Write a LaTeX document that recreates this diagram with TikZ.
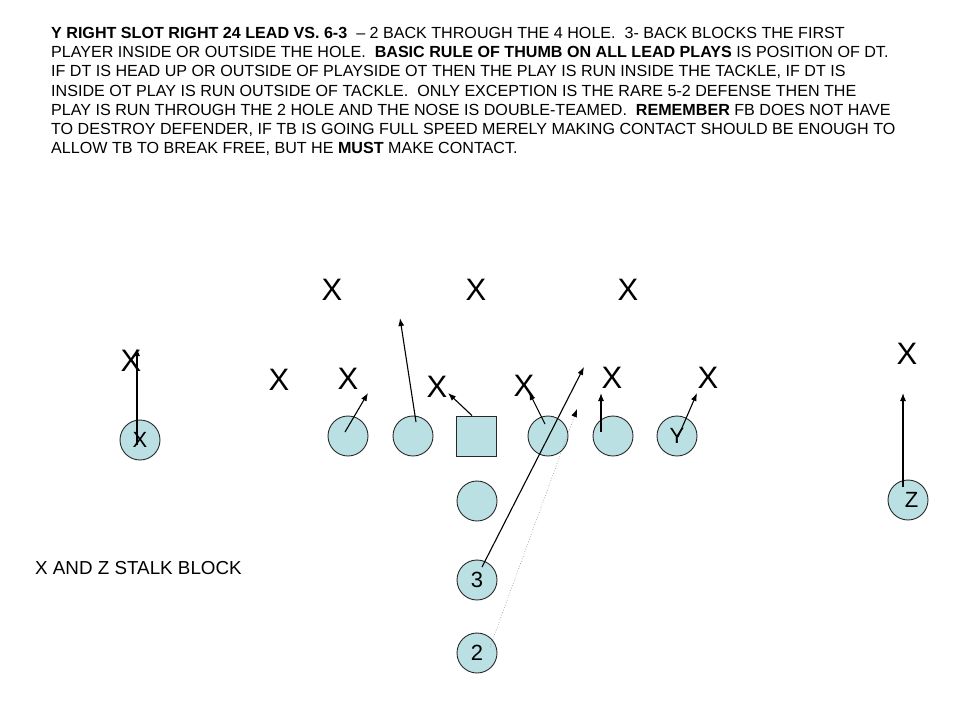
\documentclass[tikz,border=0pt]{standalone}
\usepackage{fontspec}
\setmainfont{Liberation Sans}
\usetikzlibrary{arrows.meta}
\definecolor{playerblue}{RGB}{187,224,227}
\definecolor{rimgray}{RGB}{40,40,40}
\tikzset{
  player/.style={circle, draw=rimgray, fill=playerblue, line width=0.9pt,
    minimum size=40pt, inner sep=0pt, font=\fontsize{22}{22}\selectfont},
  centerbox/.style={rectangle, draw=rimgray, fill=playerblue, line width=0.9pt,
    minimum size=40pt, inner sep=0pt},
  defender/.style={inner sep=0pt, font=\fontsize{31}{31}\selectfont},
  run/.style={line width=1.1pt, -{Latex[length=8pt,width=6pt]}},
  fake/.style={gray, line width=0.6pt, dotted, -{Latex[length=8pt,width=6pt,black]}}
}
\begin{document}
\begin{tikzpicture}[x=1pt,y=-1pt]
  \useasboundingbox (0,0) rectangle (960,720);
  % coaching notes
  \node[anchor=north west, inner sep=0pt, align=left,
        font=\fontsize{16.1}{19.2}\selectfont] (notes) at (51,27)
    {\textbf{Y RIGHT SLOT RIGHT 24 LEAD VS. 6-3}\ \ -- 2 BACK THROUGH THE 4 HOLE.\ \ 3- BACK BLOCKS THE FIRST\\
     PLAYER INSIDE OR OUTSIDE THE HOLE.\ \ \textbf{BASIC RULE OF THUMB ON ALL LEAD PLAYS} IS POSITION OF DT.\\
     IF DT IS HEAD UP OR OUTSIDE OF PLAYSIDE OT THEN THE PLAY IS RUN INSIDE THE TACKLE, IF DT IS\\
     INSIDE OT PLAY IS RUN OUTSIDE OF TACKLE.\ \ ONLY EXCEPTION IS THE RARE 5-2 DEFENSE THEN THE\\
     PLAY IS RUN THROUGH THE 2 HOLE AND THE NOSE IS DOUBLE-TEAMED.\ \ \textbf{REMEMBER} FB DOES NOT HAVE\\
     TO DESTROY DEFENDER, IF TB IS GOING FULL SPEED MERELY MAKING CONTACT SHOULD BE ENOUGH TO\\
     ALLOW TB TO BREAK FREE, BUT HE \textbf{MUST} MAKE CONTACT.};
  \node[anchor=base west, inner sep=0pt, font=\fontsize{18.8}{18.8}\selectfont] (stalk) at (35,574)
    {X AND Z STALK BLOCK};

  % defense
  \node[defender] (lb1) at (332,290) {X};
  \node[defender] (lb2) at (476,290) {X};
  \node[defender] (lb3) at (628,290) {X};
  \node[defender] (cbx) at (131,361) {X};
  \node[defender] (de1) at (279,380) {X};
  \node[defender] (dt1) at (348,379) {X};
  \node[defender] (nt1) at (437,387) {X};
  \node[defender] (nt2) at (524,386) {X};
  \node[defender] (dt2) at (612,378) {X};
  \node[defender] (de2) at (708,378) {X};
  \node[defender] (cbz) at (907,354) {X};

  % offense
  \node[player] (wrx) at (140,440) {\raisebox{-4pt}{X}};
  \node[player] (lt) at (348,436) {};
  \node[player] (lg) at (413,436) {};
  \node[centerbox] (ctr) at (476,436) {};
  \node[player] (rg) at (548,436) {};
  \node[player] (rt) at (613,436) {};
  \node[player] (te) at (677,436) {Y};
  \node[player] (qb) at (477,501) {};
  \node[player] (fb) at (477,580) {3};
  \node[player] (tb) at (477,653) {2};
  \node[player] (wrz) at (908,500) {\hspace{7pt}Z};

  % arrow tips
  \coordinate (wrxtip) at (137,348);
  \coordinate (lttip) at (368,393);
  \coordinate (lgtip) at (400,318);
  \coordinate (ctrtip) at (448,393);
  \coordinate (rgtip) at (529,392);
  \coordinate (rttip) at (601,393);
  \coordinate (tetip) at (697,393);
  \coordinate (fbtip) at (584,367);
  \coordinate (tbtip) at (577,409);
  \coordinate (wrztip) at (903,393);

  \draw[run] ([xshift=-3pt,yshift=-5pt]wrx.center) -- (wrxtip);
  \draw[run] ([xshift=-3pt,yshift=4pt]lt.center) -- (lttip);
  \draw[run] ([xshift=3pt,yshift=14pt]lg.center) -- (lgtip);
  \draw[run] ([xshift=-4pt]ctr.north) -- (ctrtip);
  \draw[run] ([xshift=-3pt,yshift=12pt]rg.center) -- (rgtip);
  \draw[run] ([xshift=-12pt,yshift=4pt]rt.center) -- (rttip);
  \draw[run] ([xshift=1pt,yshift=-1pt]te.center) -- (tetip);
  \draw[run] ([xshift=5pt,yshift=13pt]fb.center) -- (fbtip);
  \draw[fake] ([xshift=13pt,yshift=6pt]tb.center) -- (tbtip);
  \draw[run] ([xshift=-5pt,yshift=13pt]wrz.center) -- (wrztip);
\end{tikzpicture}
\end{document}
